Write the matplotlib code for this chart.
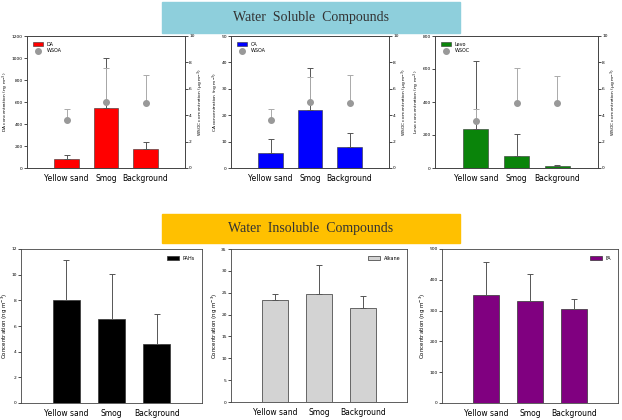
import numpy as np
import matplotlib
matplotlib.use("Agg")
import matplotlib.pyplot as plt
from matplotlib.patches import Rectangle
from matplotlib.lines import Line2D

sites = ["Yellow sand", "Smog", "Background"]

# water soluble (left axis, ng m-3) + WSOC/WSOA (right axis, ug m-3)
da = [82, 550, 172]
da_err = [39, 453, 67]
ca = [5.7, 21.9, 8.0]
ca_err = [5.2, 16.0, 5.4]
levo = [239, 74, 14]
levo_err = [409, 134, 4]

wsoa1 = [3.6, 5.0, 4.94]
wsoa1_err = [0.9, 2.6, 2.1]
wsoa2 = [3.6, 5.0, 4.95]
wsoa2_err = [0.9, 1.9, 2.1]
wsoc3 = [3.57, 4.96, 4.89]
wsoc3_err = [0.89, 2.6, 2.1]

# water insoluble
pahs = [8.04, 6.53, 4.63]
pahs_err = [3.13, 3.49, 2.27]
alkane = [23.3, 24.6, 21.6]
alkane_err = [1.5, 6.8, 2.6]
fa = [352, 332, 304]
fa_err = [106, 88, 34]

W, H = 622, 420
fig = plt.figure(figsize=(W / 100, H / 100), dpi=100)


def px_axes(x0, y0, x1, y1):
    return fig.add_axes([x0 / W, 1 - y1 / H, (x1 - x0) / W, (y1 - y0) / H])


def banner(x0, y0, x1, y1, color, text):
    fig.patches.append(Rectangle((x0 / W, 1 - y1 / H), (x1 - x0) / W, (y1 - y0) / H,
                                 transform=fig.transFigure, color=color, zorder=0))
    fig.text((x0 + x1) / 2 / W, 1 - (y0 + y1) / 2 / H, text, ha="center", va="center",
             family="Liberation Serif", fontsize=10, color="#333333")


def style_axes(ax, ymax, step):
    ax.set_xlim(-1, 3)
    ax.set_ylim(0, ymax)
    ax.set_yticks(np.arange(0, ymax + step / 2, step))
    ax.set_xticks(range(3))
    ax.set_xticklabels(sites, fontsize=5.5)
    ax.tick_params(axis="x", length=0, pad=4.5)
    ax.tick_params(axis="y", labelsize=3.2, length=2, width=0.5, pad=1)
    for s in ax.spines.values():
        s.set_linewidth(0.6)
        s.set_color("#444444")


x = np.arange(3)
err_kw = dict(ecolor="#555555", elinewidth=0.7, capsize=2, capthick=0.7)

# top row
top = [
    ((27, 36, 185, 168), da, da_err, "red", "DA", 1200, 200, wsoa1, wsoa1_err, "WSOA"),
    ((231, 36, 389, 168), ca, ca_err, "blue", "CA", 50, 10, wsoa2, wsoa2_err, "WSOA"),
    ((435, 36, 598, 168), levo, levo_err, "#0a840a", "Levo", 800, 200, wsoc3, wsoc3_err, "WSOC"),
]
for box, vals, errs, col, name, ymax, step, dots, derr, dname in top:
    ax = px_axes(*box)
    ax.bar(x, vals, width=0.62, color=col, edgecolor="#333333", linewidth=0.4,
           yerr=[np.zeros(3), errs], error_kw=err_kw)
    style_axes(ax, ymax, step)
    ax.set_ylabel(f"{name} concentration (ng m$^{{-3}}$)", fontsize=3.2, labelpad=0.5)
    ax2 = ax.twinx()
    ax2.errorbar(x, dots, yerr=[np.zeros(3), derr], fmt="o", color="#999999", ms=4,
                 ecolor="#aaaaaa", elinewidth=0.7, capsize=2, capthick=0.7)
    ax2.set_ylim(0, 10)
    ax2.set_yticks(range(0, 11, 2))
    ax2.tick_params(axis="y", labelsize=3.2, length=2, width=0.5, pad=1)
    ax2.set_ylabel("WSOC concentration (μg m$^{-3}$)", fontsize=3.2, labelpad=0.5)
    for s in ax2.spines.values():
        s.set_linewidth(0.6)
        s.set_color("#444444")
    handles = [Rectangle((0, 0), 1, 1, facecolor=col, edgecolor="#333333", linewidth=0.4),
               Line2D([], [], marker="o", color="#999999", ls="none", ms=4)]
    ax.legend(handles, [name, dname], loc="upper left", fontsize=3.5, frameon=False,
              handlelength=2, borderaxespad=0.8, labelspacing=0.3)

# bottom row
bottom = [
    ((21, 249, 202, 403), pahs, pahs_err, "black", "PAHs", 12, 2),
    ((231, 249, 407, 402), alkane, alkane_err, "#d3d3d3", "Alkane", 35, 5),
    ((442, 249, 618, 403), fa, fa_err, "#800080", "FA", 500, 100),
]
for box, vals, errs, col, name, ymax, step in bottom:
    ax = px_axes(*box)
    ax.bar(x, vals, width=0.6, color=col, edgecolor="#333333", linewidth=0.5,
           yerr=[np.zeros(3), errs], error_kw=err_kw, label=name)
    style_axes(ax, ymax, step)
    ax.set_ylabel("Concentration (ng m$^{-3}$)", fontsize=4.0, labelpad=1)
    ax.legend(loc="upper right", fontsize=3.5, frameon=False, handlelength=2.5,
              borderaxespad=1.0)

banner(162, 2, 460, 33, "#8ecfdc", "Water  Soluble  Compounds")
banner(162, 214, 460, 243, "#ffc000", "Water  Insoluble  Compounds")

fig.savefig("out.png", dpi=100)
